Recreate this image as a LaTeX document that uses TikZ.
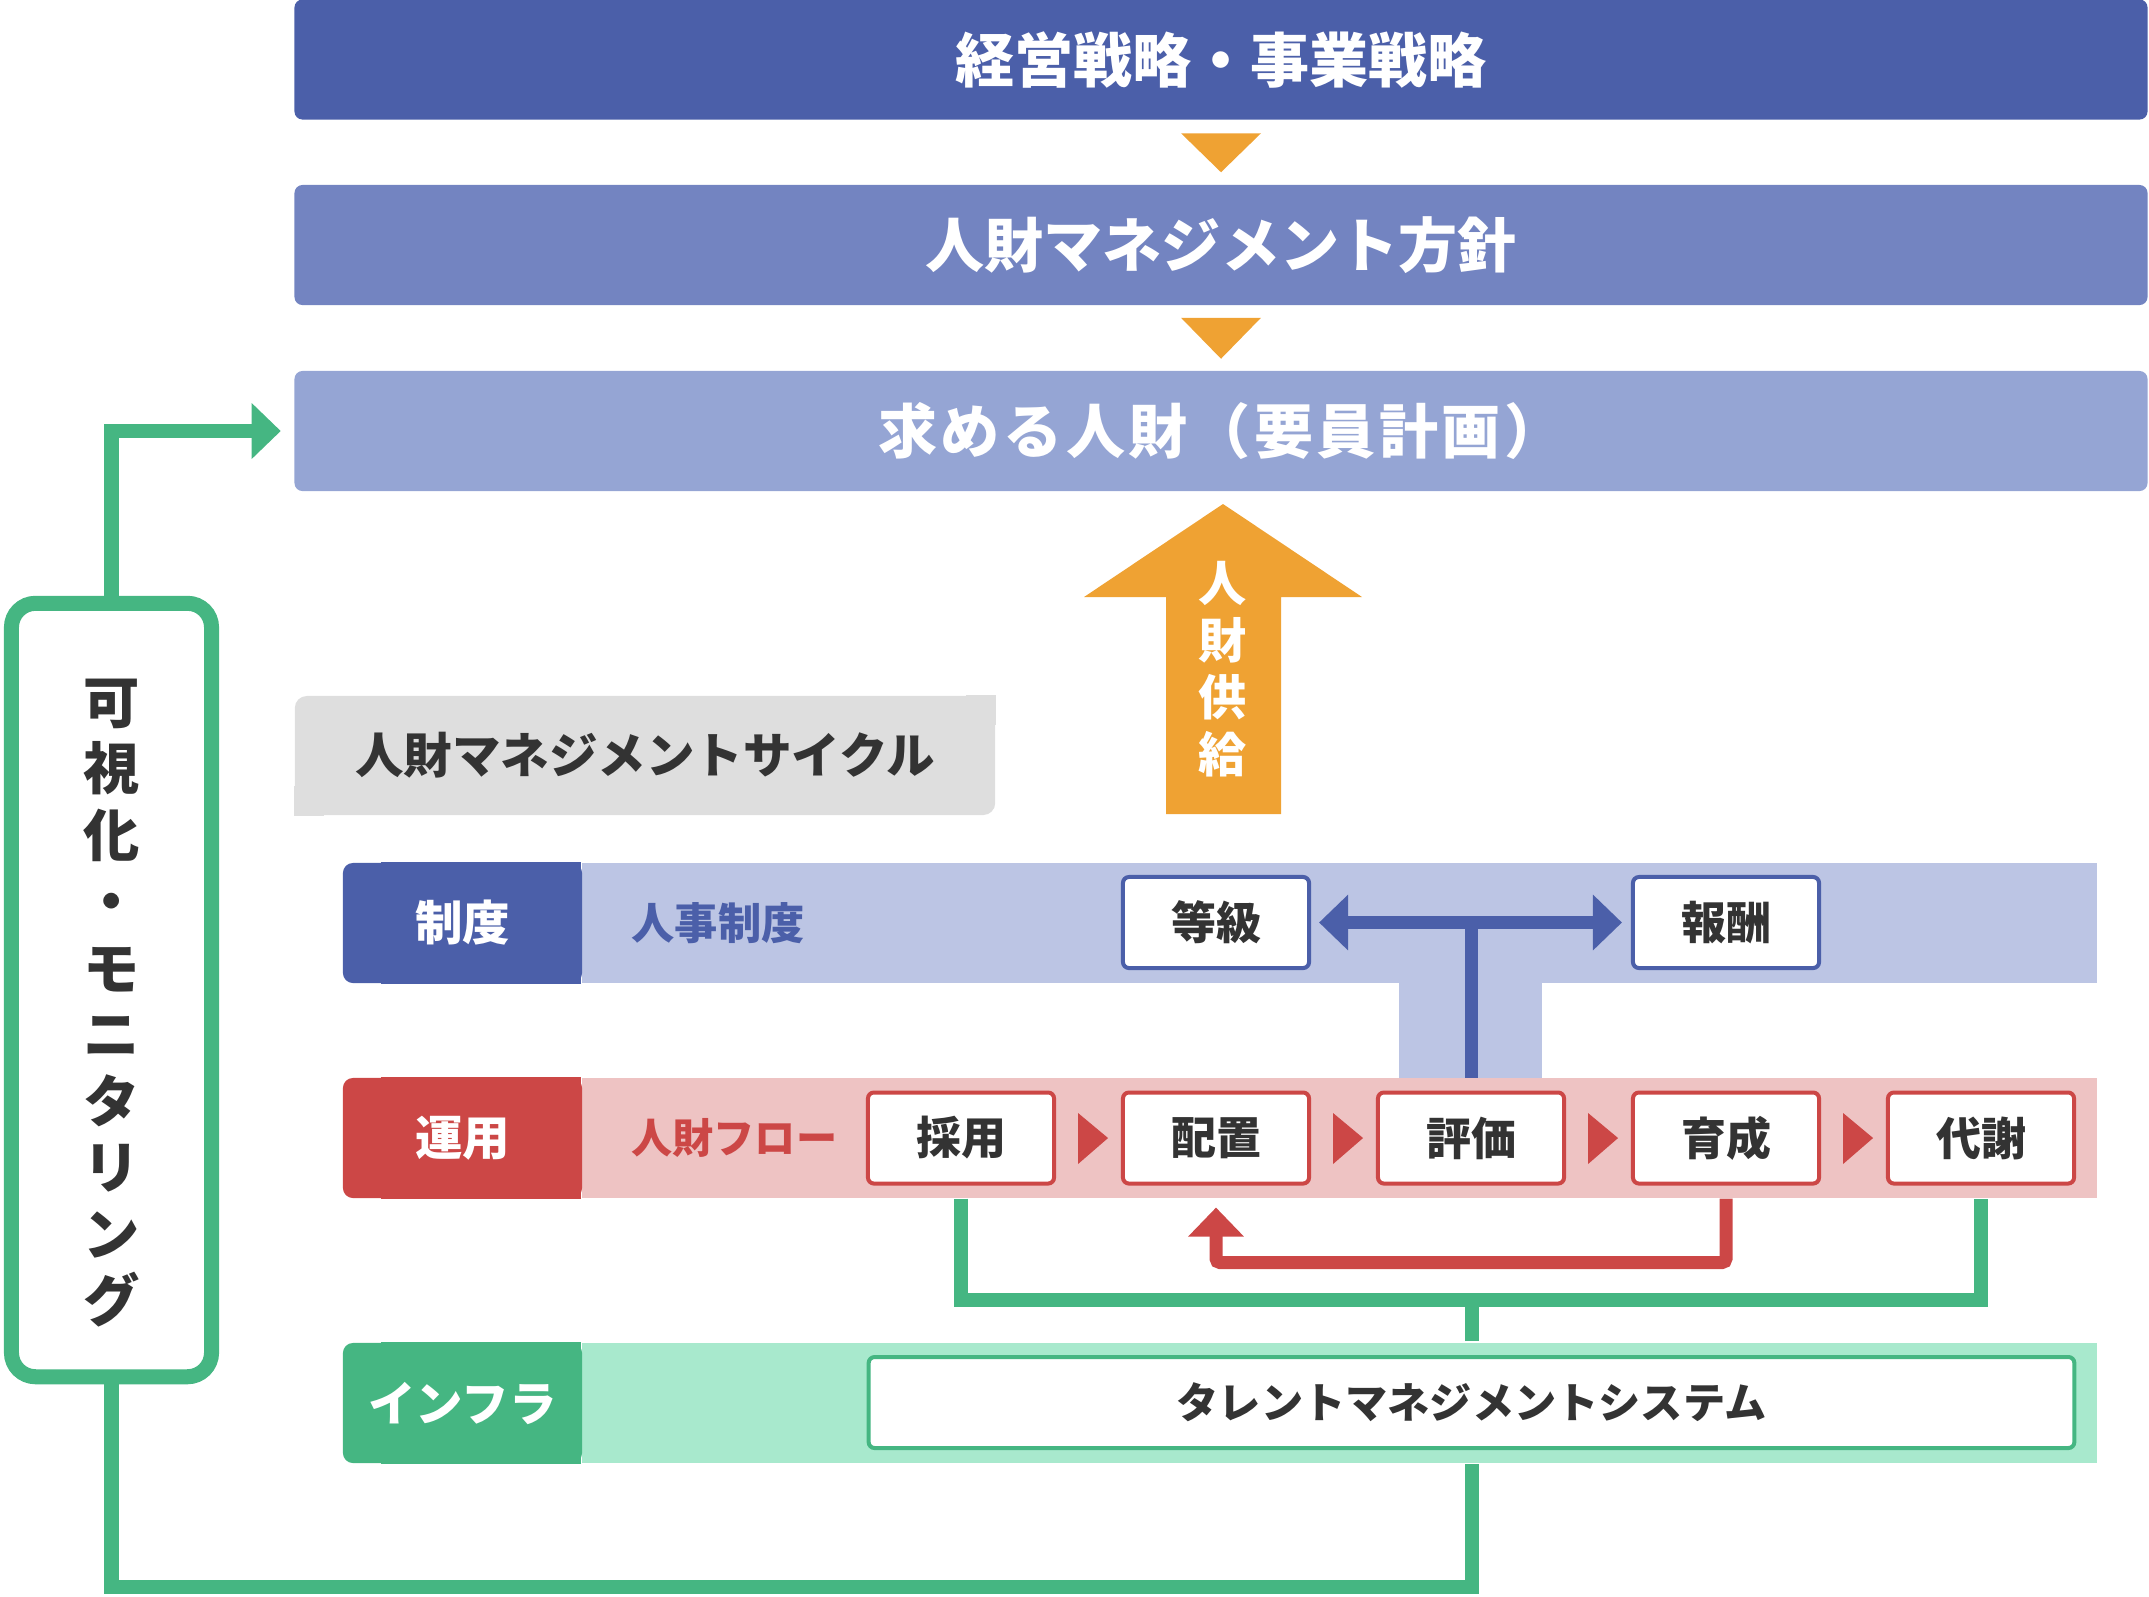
\documentclass[tikz,border=0pt]{standalone}
\usepackage{fontspec}
\setmainfont{Noto Sans CJK JP}
\usepackage{tikz}
\usetikzlibrary{arrows.meta, positioning, calc}

\definecolor{bandA}{HTML}{4B5FA9}
\definecolor{bandB}{HTML}{7384C1}
\definecolor{bandC}{HTML}{95A5D4}
\definecolor{supply}{HTML}{EFA233}
\definecolor{cyclegray}{HTML}{DEDEDE}
\definecolor{ruleblue}{HTML}{4B5FA9}
\definecolor{ruleblueL}{HTML}{BCC5E4}
\definecolor{opred}{HTML}{CC4746}
\definecolor{opredL}{HTML}{EEC3C3}
\definecolor{infgreen}{HTML}{45B682}
\definecolor{infgreenL}{HTML}{A8E9CD}
\definecolor{ink}{HTML}{333333}

\begin{document}
\begin{tikzpicture}[x=0.01cm, y=-0.01cm, >={Triangle[length=2.9mm, width=5.4mm]},
    every node/.style={inner sep=0pt, font=\bfseries},
    band/.style={minimum width=18.52cm, minimum height=1.2cm, rounded corners=0.08cm,
        text=white, font=\bfseries\fontsize{16.8}{20}\selectfont},
    rowcap/.style={minimum width=2.39cm, minimum height=1.2cm, rounded corners=0.1cm,
        text=white, font=\bfseries\fontsize{13.5}{16}\selectfont},
    strip/.style={minimum width=15.15cm, minimum height=1.2cm},
    item/.style={draw, fill=white, line width=0.04cm, rounded corners=0.06cm,
        minimum width=1.86cm, minimum height=0.91cm, text=ink,
        font=\bfseries\fontsize{12.8}{15}\selectfont},
    rowname/.style={font=\bfseries\fontsize{12.3}{15}\selectfont},
    bluelink/.style={ruleblue, line width=0.13cm},
    redlink/.style={opred, line width=0.13cm},
    greenlink/.style={infgreen, line width=0.14cm}]
    \useasboundingbox (0,0) rectangle (2149,1596);

    % Strategy bands
    \node [band, fill=bandA] (strategy) at (1221,59.5) {経営戦略・事業戦略};
    \node [band, fill=bandB] (policy) at (1221,245) {人財マネジメント方針};
    \node [band, fill=bandC] (talent) at (1221,431)
        {\addfontfeature{LetterSpace=6}求める人財（要員計画）};
    \fill [supply] ($(strategy.south)+(-40,13)$) -- ++(80,0) -- ($(strategy.south)+(0,52)$) -- cycle;
    \fill [supply] ($(policy.south)+(-40,12)$) -- ++(80,0) -- ($(policy.south)+(0,53)$) -- cycle;

    % Supply arrow
    \fill [supply] (1166,814) -- (1166,597) -- (1084,597) -- (1223,504) -- (1362,597)
        -- (1281,597) -- (1281,814) -- cycle;
    \node [text=white, align=center, font=\bfseries\fontsize{13.7}{16.2}\selectfont]
        (supplytext) at (1223,669) {人\\財\\供\\給};

    % Cycle title
    \node [fill=cyclegray, minimum width=7cm, minimum height=1.19cm, rounded corners=0.12cm]
        (cycle) at (645,755.5) {};
    \fill [cyclegray] (cycle.north east) rectangle ++(-30,30);
    \fill [cyclegray] (cycle.south west) rectangle ++(30,-30);
    \node [text=ink, font=\bfseries\fontsize{13.8}{16}\selectfont] (cycletext) at (cycle.center)
        {人財マネジメントサイクル};

    % Monitoring box
    \node [draw=infgreen, fill=white, line width=0.15cm, rounded corners=0.24cm,
        minimum width=2cm, minimum height=7.73cm] (monitor) at (111.5,990) {};
    \node [text=ink, align=center, font=\bfseries\fontsize{16}{18.9}\selectfont]
        (monitortext) at ($(monitor.center)+(0,13)$) {可\\視\\化\\・\\モ\\ニ\\タ\\リ\\ン\\グ};

    % Rules row
    \node [strip, fill=ruleblueL] (seidoStrip) at (1339.5,923) {};
    \fill [ruleblue] ($(seidoStrip.north west)+(-200,0)$) rectangle (seidoStrip.south west);
    \node [rowcap, fill=ruleblue] (seido) at (462.5,923) {制度};
    \node [rowname, text=ruleblue, right=0.48cm of seido] (seidoName) {人事制度};

    % Operations row
    \node [strip, fill=opredL] (unyoStrip) at (1339.5,1138) {};
    \fill [opred] ($(unyoStrip.north west)+(-200,0)$) rectangle (unyoStrip.south west);
    \node [rowcap, fill=opred] (unyo) at (462.5,1138) {運用};
    \node [rowname, text=opred, right=0.48cm of unyo, font=\bfseries\fontsize{11.7}{15}\selectfont]
        (unyoName) {人財フロー};

    % Link between rows
    \fill [ruleblueL] (1399,983) rectangle (1542,1078);

    \node [item, draw=ruleblue] (grade) at (1216,922.5) {等級};
    \node [item, draw=ruleblue] (pay) at (1726,922.5) {報酬};

    \foreach \name/\label [count=\i from 0] in {hire/採用, place/配置, eval/評価, train/育成, exit/代謝}
        \node [item, draw=opred] (\name) at (961+255*\i,1138) {\label};
    \foreach \a in {hire, place, eval, train}
        \fill [opred] ($(\a.east)+(22,-25)$) -- ($(\a.east)+(52,0)$) -- ($(\a.east)+(22,26)$) -- cycle;

    % Infrastructure row
    \node [strip, fill=infgreenL] (infraStrip) at (1339.5,1403) {};
    \fill [infgreen] ($(infraStrip.north west)+(-200,0)$) rectangle (infraStrip.south west);
    \node [rowcap, fill=infgreen] (infra) at (462.5,1403) {インフラ};
    \node [item, draw=infgreen, minimum width=12.05cm, font=\bfseries\fontsize{12}{15}\selectfont]
        (system) at (1471.5,1402.5) {タレントマネジメントシステム};

    % Evaluation feeds grade and pay
    \draw [bluelink] ($(eval.north)+(0,-13)$) -- (eval.north |- grade.east);
    \draw [bluelink, <->] ($(grade.east)+(8,0)$) -- ($(pay.west)+(-9,0)$);

    % Training back to placement
    \draw [redlink, ->, rounded corners=0.04cm] ($(train.south)+(0,13)$) -- ++(0,64)
        -| ($(place.south)+(0,22)$);

    % Flow data into the system
    \draw [greenlink] ($(hire.south)+(0,13)$) |- ($(exit.south)+(0,114)$) -- ($(exit.south)+(0,13)$);
    \draw [greenlink] ($(system.north)+(0,-14)$) -- ++(0,-46);

    % Monitoring loop
    \draw [greenlink] ($(system.south)+(0,14)$) -- ++(0,123) -| (monitor.south);
    \draw [greenlink, ->] (monitor.north) |- ($(talent.west)+(-13,0)$);
\end{tikzpicture}
\end{document}
